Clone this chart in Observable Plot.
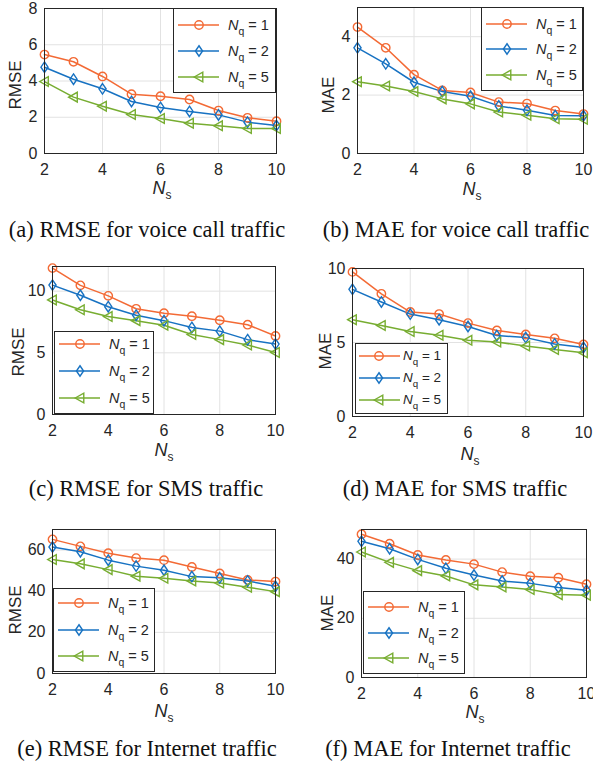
<!DOCTYPE html>
<html>
<head>
<meta charset="utf-8">
<script src="https://cdn.jsdelivr.net/npm/d3@7"></script>
<script src="https://cdn.jsdelivr.net/npm/@observablehq/plot@0.6"></script>
<style>
  html, body { margin: 0; padding: 0; background: #fff; }
  #root { position: relative; width: 593px; height: 765px; overflow: hidden; background: #fff; }
  #root > svg.panel { position: absolute; }
  #overlay { position: absolute; left: 0; top: 0; pointer-events: none; }
</style>
</head>
<body>
<div id="root"></div>
<script>
// ---------------- data ----------------
const Ns = [2, 3, 4, 5, 6, 7, 8, 9, 10];
const xTicks = [2, 4, 6, 8, 10];
const nqLevels = [1, 2, 5];

const rmseVoiceQ1 = [5.46, 5.06, 4.25, 3.27, 3.16, 2.98, 2.37, 1.97, 1.78];
const rmseVoiceQ2 = [4.76, 4.10, 3.57, 2.87, 2.54, 2.32, 2.13, 1.73, 1.54];
const rmseVoiceQ5 = [3.97, 3.11, 2.61, 2.15, 1.93, 1.67, 1.53, 1.38, 1.38];

const maeVoiceQ1 = [4.33, 3.62, 2.70, 2.16, 2.09, 1.76, 1.71, 1.47, 1.35];
const maeVoiceQ2 = [3.62, 3.07, 2.44, 2.12, 1.96, 1.63, 1.48, 1.30, 1.29];
const maeVoiceQ5 = [2.46, 2.31, 2.12, 1.87, 1.70, 1.42, 1.31, 1.19, 1.17];

const rmseSmsQ1 = [11.87, 10.47, 9.62, 8.57, 8.21, 7.97, 7.64, 7.28, 6.37];
const rmseSmsQ2 = [10.49, 9.67, 8.74, 8.05, 7.61, 7.06, 6.76, 6.07, 5.71];
const rmseSmsQ5 = [9.29, 8.49, 7.94, 7.61, 7.23, 6.48, 6.07, 5.63, 5.03];

const maeSmsQ1 = [9.77, 8.29, 7.06, 6.92, 6.31, 5.81, 5.54, 5.28, 4.87];
const maeSmsQ2 = [8.59, 7.74, 6.92, 6.54, 6.08, 5.47, 5.33, 4.90, 4.67];
const maeSmsQ5 = [6.54, 6.15, 5.74, 5.49, 5.15, 5.03, 4.76, 4.53, 4.31];

const rmseNetQ1 = [65.2, 61.8, 58.5, 56.1, 55.1, 51.8, 48.6, 45.5, 44.7];
const rmseNetQ2 = [61.5, 59.2, 55.1, 52.2, 50.2, 47.1, 46.5, 45.0, 42.4];
const rmseNetQ5 = [55.4, 53.3, 50.5, 47.3, 46.3, 45.0, 44.0, 41.9, 39.8];

const maeNetQ1 = [48.4, 45.2, 41.4, 39.7, 38.3, 35.6, 34.2, 33.7, 31.5];
const maeNetQ2 = [46.0, 43.5, 39.9, 36.9, 34.6, 32.6, 31.8, 30.4, 29.5];
const maeNetQ5 = [42.4, 38.9, 36.1, 34.3, 31.3, 30.6, 29.7, 28.0, 27.8];

const yTicksA = [0, 2, 4, 6, 8];
const yTicksB = [0, 2, 4];
const yTicksC = [0, 5, 10];
const yTicksD = [0, 5, 10];
const yTicksE = [0, 20, 40, 60];
const yTicksF = [0, 20, 40];

const yLabels = ["RMSE", "MAE", "RMSE", "MAE", "RMSE", "MAE"];
const captions = [
  "(a) RMSE for voice call traffic",
  "(b) MAE for voice call traffic",
  "(c) RMSE for SMS traffic",
  "(d) MAE for SMS traffic",
  "(e) RMSE for Internet traffic",
  "(f) MAE for Internet traffic"
];

// ---------------- styles ----------------
const nqColors = ["#f36a35", "#1772c2", "#77ad31"];
const ink = "#262626";
const sans = "'Liberation Sans', Arial, Helvetica, sans-serif";

const diamondSym = {
  draw(ctx, size) {
    const r = Math.sqrt(size / Math.PI);
    const w = r * 0.85, h = r * 1.25;
    ctx.moveTo(0, -h); ctx.lineTo(w, 0); ctx.lineTo(0, h); ctx.lineTo(-w, 0); ctx.closePath();
  }
};
const triLeftSym = {
  draw(ctx, size) {
    const r = Math.sqrt(size / Math.PI);
    ctx.moveTo(-r * 1.15, 0); ctx.lineTo(r * 0.9, -r * 1.15); ctx.lineTo(r * 0.9, r * 1.15); ctx.closePath();
  }
};
const nqSymbols = [d3.symbolCircle, diamondSym, triLeftSym];

// ---------------- layout ----------------
const panels = [
  {left: 0,   top: 0,   width: 290, height: 200, mL: 44, mR: 14, mT: 8,  mB: 47, yDomain: [0, 8],  yTicks: yTicksA, series: [rmseVoiceQ1, rmseVoiceQ2, rmseVoiceQ5],
   ylab: [21, 85], xlab: [162, 194], cap: [147, 237],
   leg: {x: 173, y: 8, w: 102, h: 84, rows: [17, 43, 69], lx0: 5, lx1: 46, mx: 26, tx: 55, fs: 14.5}},
  {left: 290, top: 0,   width: 303, height: 200, mL: 67, mR: 10, mT: 7,  mB: 47, yDomain: [0, 5],  yTicks: yTicksB, series: [maeVoiceQ1, maeVoiceQ2, maeVoiceQ5],
   ylab: [334, 95], xlab: [472, 195], cap: [456, 237],
   leg: {x: 481, y: 7, w: 101, h: 83, rows: [17, 42, 68], lx0: 5, lx1: 46, mx: 26, tx: 55, fs: 14.5}},
  {left: 0,   top: 250, width: 290, height: 200, mL: 52, mR: 15, mT: 16, mB: 36, yDomain: [0, 12], yTicks: yTicksC, series: [rmseSmsQ1, rmseSmsQ2, rmseSmsQ5],
   ylab: [24, 352], xlab: [164, 456], cap: [146, 496],
   leg: {x: 54, y: 331, w: 99, h: 82, rows: [13, 40, 67], lx0: 5, lx1: 46, mx: 26, tx: 55, fs: 14.5}},
  {left: 290, top: 250, width: 303, height: 200, mL: 62, mR: 10, mT: 18, mB: 34, yDomain: [0, 10], yTicks: yTicksD, series: [maeSmsQ1, maeSmsQ2, maeSmsQ5],
   ylab: [331, 351], xlab: [470, 460], cap: [455, 496],
   leg: {x: 355, y: 343, w: 92, h: 70, rows: [13, 35, 57], lx0: 4, lx1: 45, mx: 24, tx: 48, fs: 13.5}},
  {left: 0,   top: 500, width: 290, height: 200, mL: 52, mR: 15, mT: 29, mB: 27, yDomain: [0, 70], yTicks: yTicksE, series: [rmseNetQ1, rmseNetQ2, rmseNetQ5],
   ylab: [21, 610], xlab: [164, 717], cap: [147, 756],
   leg: {x: 53, y: 588, w: 101, h: 83, rows: [15, 42, 68], lx0: 5, lx1: 46, mx: 26, tx: 55, fs: 14.5}},
  {left: 290, top: 500, width: 303, height: 200, mL: 71, mR: 7,  mT: 29, mB: 23, yDomain: [0, 50], yTicks: yTicksF, series: [maeNetQ1, maeNetQ2, maeNetQ5],
   ylab: [333, 613], xlab: [475, 718], cap: [448, 756],
   leg: {x: 363, y: 591, w: 101, h: 82, rows: [16, 42, 67], lx0: 5, lx1: 46, mx: 26, tx: 55, fs: 14.5}}
];

const root = document.getElementById("root");

panels.forEach((p) => {
  const rows = p.series.flatMap((vals, i) => vals.map((v, j) => ({ns: Ns[j], v, q: nqLevels[i]})));
  const chart = Plot.plot({
    width: p.width, height: p.height,
    marginLeft: p.mL, marginRight: p.mR, marginTop: p.mT, marginBottom: p.mB,
    style: {fontFamily: sans, fontSize: "16px", color: ink, background: "transparent", overflow: "visible"},
    x: {domain: [2, 10]},
    y: {domain: p.yDomain},
    color: {domain: nqLevels, range: nqColors},
    symbol: {domain: nqLevels, range: nqSymbols},
    marks: [
      Plot.gridX(xTicks, {stroke: "#e2e2e2", strokeOpacity: 1}),
      Plot.gridY(p.yTicks, {stroke: "#e2e2e2", strokeOpacity: 1}),
      Plot.axisX(xTicks, {tickSize: 0, tickPadding: 10, label: null, fontSize: 16, fill: ink}),
      Plot.axisY(p.yTicks, {tickSize: 0, tickPadding: 7, label: null, fontSize: 16, fill: ink}),
      Plot.line(rows, {x: "ns", y: "v", z: "q", stroke: "q", strokeWidth: 1.5}),
      Plot.dot(rows, {x: "ns", y: "v", stroke: "q", symbol: "q", r: 4.2, fill: "none", strokeWidth: 1.4}),
      Plot.frame({stroke: ink, strokeWidth: 1})
    ]
  });
  chart.classList.add("panel");
  chart.style.left = p.left + "px";
  chart.style.top = p.top + "px";
  root.appendChild(chart);
});

// ---------------- overlay: labels, legends, captions ----------------
const ov = d3.select(root).append("svg")
  .attr("id", "overlay").attr("width", 593).attr("height", 765)
  .attr("font-family", sans).attr("fill", ink);

panels.forEach((p, k) => {
  // y label
  ov.append("text")
    .attr("transform", `translate(${p.ylab[0]},${p.ylab[1]}) rotate(-90)`)
    .attr("text-anchor", "middle").attr("font-size", 17)
    .text(yLabels[k]);

  // x label N_s
  const xl = ov.append("text")
    .attr("x", p.xlab[0]).attr("y", p.xlab[1])
    .attr("text-anchor", "middle").attr("font-size", 18);
  xl.append("tspan").attr("font-style", "italic").text("N");
  xl.append("tspan").attr("font-size", 12).attr("dy", 5).text("s");

  // legend
  const L = p.leg;
  const g = ov.append("g").attr("transform", `translate(${L.x},${L.y})`);
  g.append("rect").attr("x", 0.5).attr("y", 0.5).attr("width", L.w).attr("height", L.h)
    .attr("fill", "#fff").attr("stroke", ink).attr("stroke-width", 1);
  nqLevels.forEach((q, i) => {
    const y = L.rows[i];
    g.append("line").attr("x1", L.lx0).attr("x2", L.lx1).attr("y1", y).attr("y2", y)
      .attr("stroke", nqColors[i]).attr("stroke-width", 1.5);
    g.append("path")
      .attr("d", d3.symbol().type(nqSymbols[i]).size(Math.PI * 17.6)())
      .attr("transform", `translate(${L.mx},${y})`)
      .attr("fill", "none").attr("stroke", nqColors[i]).attr("stroke-width", 1.4);
    const t = g.append("text").attr("x", L.tx).attr("y", y + L.fs * 0.32)
      .attr("font-size", L.fs).attr("fill", ink);
    t.append("tspan").attr("font-style", "italic").text("N");
    t.append("tspan").attr("font-size", L.fs * 0.72).attr("dy", L.fs * 0.35).text("q");
    t.append("tspan").attr("dy", -L.fs * 0.35).text(" = " + q);
  });

  // caption
  ov.append("text")
    .attr("x", p.cap[0]).attr("y", p.cap[1])
    .attr("text-anchor", "middle")
    .attr("font-family", "'Liberation Serif', 'Times New Roman', serif")
    .attr("font-size", 22.5).attr("fill", "#111")
    .text(captions[k]);
});
</script>
</body>
</html>
